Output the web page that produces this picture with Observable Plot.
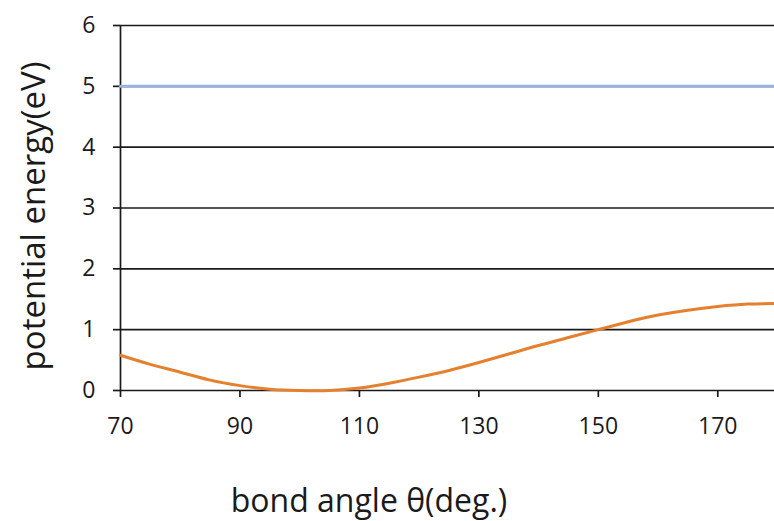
<!DOCTYPE html>
<html>
<head>
<meta charset="utf-8">
<script src="https://cdn.jsdelivr.net/npm/d3@7"></script>
<script src="https://cdn.jsdelivr.net/npm/@observablehq/plot@0.6"></script>
<style>
  html, body { margin: 0; padding: 0; background: #fff; overflow: hidden; }
</style>
</head>
<body>
<div id="chart"></div>
<script>
// Bond-angle scan of the potential energy (eV)
const angles = [70, 75, 80, 85, 90, 95, 100, 105, 110, 115, 120, 125, 130, 135, 140, 145, 150, 155, 160, 165, 170, 175, 180];
const energy = [0.58, 0.43, 0.30, 0.17, 0.08, 0.02, 0.00, 0.00, 0.04, 0.12, 0.22, 0.33, 0.46, 0.60, 0.74, 0.87, 1.00, 1.13, 1.24, 1.32, 1.38, 1.42, 1.43];

// Reference level drawn across the whole angle range
const levelAngles = [70, 180];
const levelEnergy = [5, 5];

const xTicks = [70, 90, 110, 130, 150, 170];
const yTicks = [0, 1, 2, 3, 4, 5, 6];

const xTitle = "bond angle θ(deg.)";
const yTitle = "potential energy(eV)";

const curve = angles.map((a, i) => ({angle: a, energy: energy[i]}));
const level = levelAngles.map((a, i) => ({angle: a, energy: levelEnergy[i]}));

const font = "'Open Sans', Lato, sans-serif";

const chart = Plot.plot({
  width: 774,
  height: 521,
  marginTop: 25,
  marginBottom: 131,
  marginLeft: 120,
  marginRight: -3,
  style: {fontFamily: font, background: "#fff", overflow: "visible"},
  x: {domain: [70, 180]},
  y: {domain: [0, 6]},
  marks: [
    // horizontal gridlines
    Plot.ruleY(yTicks, {stroke: "#1a1a1a", strokeWidth: 1.7}),
    // left axis line
    Plot.ruleX([70], {stroke: "#1a1a1a", strokeWidth: 1.7}),
    Plot.axisY(yTicks, {
      tickSize: 7, tickPadding: 18, stroke: "#1a1a1a", strokeWidth: 1.7,
      fontSize: 23, fill: "#1a1a1a", label: null, tickFormat: "d"
    }),
    Plot.axisX(xTicks, {
      tickSize: 7, tickPadding: 20, stroke: "#1a1a1a", strokeWidth: 1.7,
      fontSize: 23, fill: "#1a1a1a", label: null, tickFormat: "d"
    }),
    Plot.line(level, {x: "angle", y: "energy", stroke: "#9db2de", strokeWidth: 3}),
    Plot.line(curve, {x: "angle", y: "energy", stroke: "#e5802f", strokeWidth: 3, curve: "natural"}),
    Plot.text([xTitle], {
      frameAnchor: "bottom", dx: -80, dy: 111, fontSize: 32, fill: "#1a1a1a",
      textAnchor: "middle", lineAnchor: "middle", text: d => d
    }),
    Plot.text([yTitle], {
      frameAnchor: "left", dx: -86, dy: 8, rotate: -90, fontSize: 33, fill: "#1a1a1a",
      textAnchor: "middle", lineAnchor: "middle", text: d => d
    })
  ]
});

document.getElementById("chart").append(chart);
</script>
</body>
</html>
